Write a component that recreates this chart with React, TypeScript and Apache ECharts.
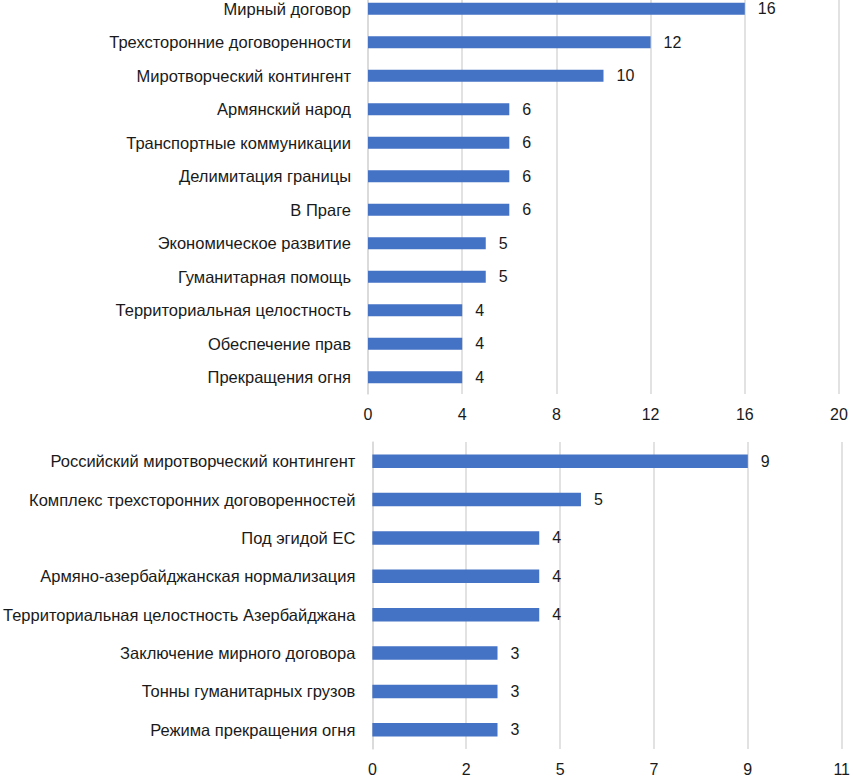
import React, { useEffect, useRef } from "react";
import * as echarts from "echarts";

const topCategories = [
  "Мирный договор",
  "Трехсторонние договоренности",
  "Миротворческий контингент",
  "Армянский народ",
  "Транспортные коммуникации",
  "Делимитация границы",
  "В Праге",
  "Экономическое развитие",
  "Гуманитарная помощь",
  "Территориальная целостность",
  "Обеспечение прав",
  "Прекращения огня",
];
const topValues = [16, 12, 10, 6, 6, 6, 6, 5, 5, 4, 4, 4];

const bottomCategories = [
  "Российский миротворческий контингент",
  "Комплекс трехсторонних договоренностей",
  "Под эгидой ЕС",
  "Армяно-азербайджанская нормализация",
  "Территориальная целостность Азербайджана",
  "Заключение мирного договора",
  "Тонны гуманитарных грузов",
  "Режима прекращения огня",
];
const bottomValues = [9, 5, 4, 4, 4, 3, 3, 3];

const topAxis = { min: 0, max: 20, interval: 4 };
const bottomAxis = { min: 0, max: 11.25, interval: 2.25 };

const FONT = "'Liberation Sans', Arial, sans-serif";
const TEXT = "#1a1a1a";
const GRID = "#d9d9d9";
const BAR = "#4472C4";
const FS = 16;
const CAT_FS = 16.5;

export default function App() {
  const ref = useRef<HTMLDivElement>(null);
  useEffect(() => {
    if (!ref.current) return;
    const chart = echarts.init(ref.current, undefined, { renderer: "svg" });
    const xAxisCommon = {
      type: "value" as const,
      axisLine: { show: false },
      axisTick: { show: false },
      splitLine: { show: true, lineStyle: { color: GRID, width: 1.5 } },
      axisLabel: { color: TEXT, fontSize: FS, fontFamily: FONT, margin: 12 },
    };
    const yAxisCommon = {
      type: "category" as const,
      inverse: true,
      axisLine: { show: true, lineStyle: { color: GRID, width: 1.5 } },
      axisTick: { show: false },
      axisLabel: {
        color: TEXT,
        fontSize: CAT_FS,
        fontFamily: FONT,
        margin: 17,
        lineHeight: 12,
      },
    };
    const labelCommon = {
      show: true,
      position: "right" as const,
      distance: 13,
      color: TEXT,
      fontSize: FS,
      fontFamily: FONT,
      lineHeight: 12,
    };
    chart.setOption({
      animation: false,
      grid: [
        { left: 368, right: 14, top: 2, height: 402, containLabel: false },
        { left: 372, right: 7, top: 452, height: 308, containLabel: false },
      ],
      xAxis: [
        { ...xAxisCommon, gridIndex: 0, ...topAxis },
        {
          ...xAxisCommon,
          gridIndex: 1,
          ...bottomAxis,
          axisLabel: {
            ...xAxisCommon.axisLabel,
            formatter: (v: number) => String(Math.round(v)),
          },
        },
      ],
      yAxis: [
        { ...yAxisCommon, gridIndex: 0, data: topCategories },
        { ...yAxisCommon, gridIndex: 1, data: bottomCategories },
      ],
      series: [
        {
          type: "bar",
          xAxisIndex: 0,
          yAxisIndex: 0,
          data: topValues,
          barWidth: 12,
          itemStyle: { color: BAR },
          label: labelCommon,
        },
        {
          type: "bar",
          xAxisIndex: 1,
          yAxisIndex: 1,
          data: bottomValues,
          barWidth: 13.5,
          itemStyle: { color: BAR },
          label: labelCommon,
        },
      ],
    });
    return () => chart.dispose();
  }, []);
  return (
    <div
      ref={ref}
      style={{ position: "fixed", left: 0, top: -10, width: 853, height: 787, background: "#fff" }}
    />
  );
}
